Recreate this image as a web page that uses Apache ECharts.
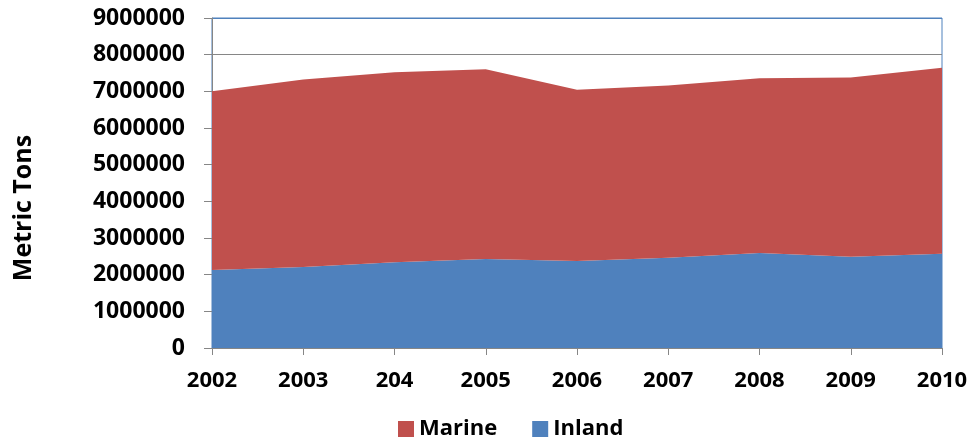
<!DOCTYPE html>
<html>
<head>
<meta charset="utf-8">
<script src="https://cdn.jsdelivr.net/npm/echarts@6/dist/echarts.min.js"></script>
<style>html,body{margin:0;padding:0;background:#fff}#c{width:971px;height:441px}</style>
</head>
<body>
<div id="c"></div>
<script>
var categories = ['2002','2003','204','2005','2006','2007','2008','2009','2010'];
var inland = [2130000,2210000,2340000,2430000,2370000,2460000,2590000,2490000,2570000];
var marine = [4870000,5110000,5180000,5170000,4670000,4700000,4770000,4890000,5070000];
var yTicks = [0,1000000,2000000,3000000,4000000,5000000,6000000,7000000,8000000,9000000];

var font = 'Open Sans';
var chart = echarts.init(document.getElementById('c'), null, {renderer:'canvas'});
var splitColors = yTicks.map(function(v,i){ return i === yTicks.length-1 ? '#4F81BD' : '#868686'; });
chart.setOption({
  animation:false,
  textStyle:{fontFamily:font,fontWeight:'bold',color:'#000'},
  grid:{left:212,right:29,top:18,bottom:93,show:true,borderColor:'#4F81BD',borderWidth:1,backgroundColor:'transparent'},
  legend:{
    data:['Marine','Inland'],
    top:413,left:393,
    icon:'rect',itemWidth:16,itemHeight:16,itemGap:35,
    textStyle:{fontFamily:font,fontWeight:'bold',fontSize:22,color:'#000'}
  },
  xAxis:{
    type:'category',data:categories,boundaryGap:false,
    axisLine:{lineStyle:{color:'#868686',width:1}},
    axisTick:{show:true,length:7,lineStyle:{color:'#868686'}},
    axisLabel:{fontFamily:font,fontWeight:'bold',fontSize:22,color:'#000',margin:22},
    splitLine:{show:false}
  },
  yAxis:{
    type:'value',min:0,max:9000000,interval:1000000,
    name:'Metric Tons',nameLocation:'middle',nameGap:176,nameRotate:90,
    nameTextStyle:{fontFamily:font,fontWeight:'bold',fontSize:25,color:'#000',padding:[0,50,0,0]},
    axisLine:{show:true,lineStyle:{color:'#868686',width:1}},
    axisTick:{show:true,length:8,lineStyle:{color:'#868686'}},
    axisLabel:{fontFamily:font,fontWeight:'bold',fontSize:23,color:'#000',margin:27,
      formatter:function(v){return String(v);}},
    splitLine:{show:true,lineStyle:{color:splitColors,width:1}}
  },
  series:[
    {name:'Inland',type:'line',stack:'total',data:inland,showSymbol:false,symbol:'none',
      lineStyle:{width:0},areaStyle:{color:'#4F81BD',opacity:1},itemStyle:{color:'#4F81BD'}},
    {name:'Marine',type:'line',stack:'total',data:marine,showSymbol:false,symbol:'none',
      lineStyle:{width:0},areaStyle:{color:'#C0504D',opacity:1},itemStyle:{color:'#C0504D'}}
  ]
});
</script>
</body>
</html>
